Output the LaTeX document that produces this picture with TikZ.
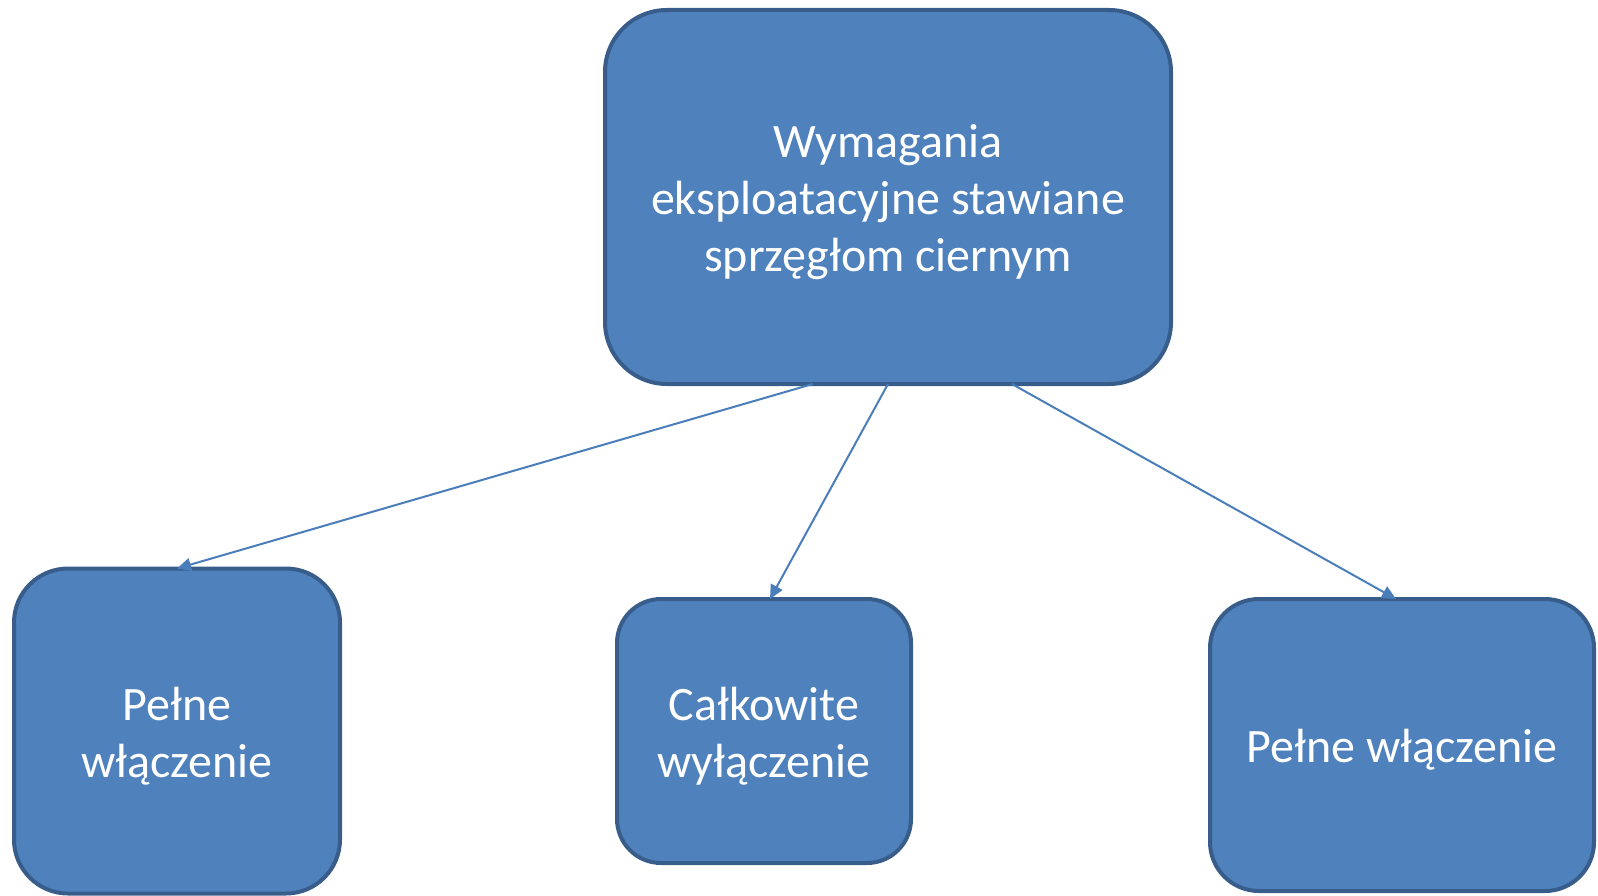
\documentclass[tikz,border=0pt]{standalone}
\usepackage{fontspec}
\setmainfont{Carlito}
\usetikzlibrary{arrows.meta,calc}
\definecolor{boxfill}{HTML}{4F81BD}
\definecolor{boxline}{HTML}{385D8A}
\definecolor{linkline}{HTML}{4A7EBB}
\newcommand{\topgap}{\rule{0pt}{0.9em}}
\begin{document}
\begin{tikzpicture}[x=1pt, y=-1pt,
		box/.style={draw=boxline, fill=boxfill, line width=4pt, text=white, align=center,
			inner sep=0pt, outer sep=0pt, font={\fontsize{48}{57}\selectfont}},
		link/.style={draw=linkline, line width=2pt, -{Triangle[length=14pt, width=13pt]}}]
	% ==================== Rama ====================
	\useasboundingbox (0,0) rectangle (1598,896);
	
	% 1. Blok nadrzędny
	\node[box, minimum width=566, minimum height=374, rounded corners=62] (req) at (888,197)
		{\topgap Wymagania\\eksploatacyjne stawiane\\sprzęgłom ciernym};
	
	% 2. Bloki podrzędne
	\node[box, minimum width=326, minimum height=325, rounded corners=54] (full) at (177,731)
		{\topgap Pełne\\włączenie};
	\node[box, minimum width=294, minimum height=264, rounded corners=44] (off) at (764,731)
		{\topgap Całkowite\\wyłączenie};
	\node[box, minimum width=384, minimum height=292, rounded corners=49] (fullb) at (1402,745)
		{\topgap Pełne włączenie};
	
	% 3. Strzałki (start na dolnej krawędzi bloku nadrzędnego)
	\draw[link] ($(req.south west)!0.367!(req.south east)$) -- (full.north);
	\draw[link] (req.south) -- ($(off.north)+(6,0)$);
	\draw[link] ($(req.south west)!0.719!(req.south east)$) -- ($(fullb.north)+(-6,0)$);
\end{tikzpicture}
\end{document}
